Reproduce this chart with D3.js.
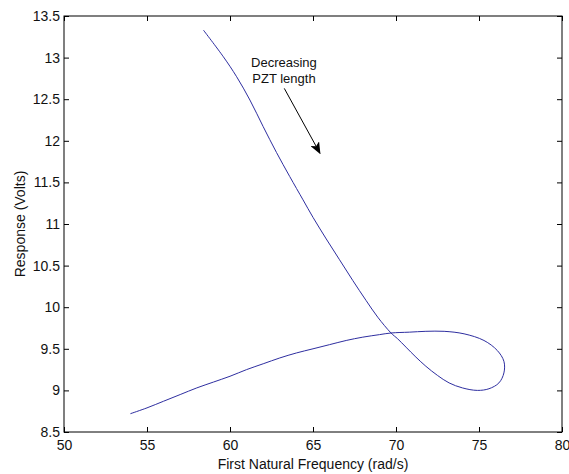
<!DOCTYPE html>
<html>
<head>
<meta charset="utf-8">
<script src="https://cdn.jsdelivr.net/npm/d3@7"></script>
<style>
  body { margin: 0; background: #fff; }
  svg text { font-family: "Liberation Sans", Arial, sans-serif; fill: #111; }
</style>
</head>
<body>
<script>
var width = 569,
    height = 474,
    margin = {top: 16, right: 7, bottom: 42, left: 64};

// tick values of the axes
var xTicks = [50, 55, 60, 65, 70, 75, 80],
    yTicks = [8.5, 9, 9.5, 10, 10.5, 11, 11.5, 12, 12.5, 13, 13.5];

// the curve, from the upper end to the lower one
var freq = [58.4, 59.6, 60.4, 61.2, 62.0, 62.8, 63.6, 64.4, 65.0, 65.8, 66.6, 67.4,
            68.2, 68.9, 69.7, 70.1, 70.6, 71.2, 71.8, 72.5, 73.2, 74.0, 74.9, 75.6,
            76.2, 76.5, 76.5, 76.1, 75.3, 74.1, 72.9, 71.8, 70.8, 69.7, 69.0, 68.0,
            67.0, 66.0, 65.0, 64.0, 63.0, 62.0, 61.0, 60.0, 59.0, 58.0, 57.0, 56.0,
            55.0, 54.0];
var resp = [13.33, 13.01, 12.77, 12.49, 12.17, 11.86, 11.57, 11.29, 11.08, 10.82, 10.57, 10.32,
            10.08, 9.88, 9.69, 9.62, 9.52, 9.40, 9.29, 9.18, 9.09, 9.03, 9.00, 9.02,
            9.09, 9.21, 9.35, 9.48, 9.60, 9.68, 9.71, 9.71, 9.70, 9.69, 9.67, 9.64,
            9.60, 9.55, 9.50, 9.45, 9.39, 9.32, 9.25, 9.17, 9.10, 9.03, 8.95, 8.87,
            8.79, 8.72];

// annotation text and arrow (in data units)
var noteLines = ["Decreasing", "PZT length"],
    noteX = 63.25,
    noteY = [12.89, 12.70],
    arrowFrom = [63.27, 12.63],
    arrowTo = [65.42, 11.85];

var svg = d3.select("body").append("svg")
    .attr("width", width)
    .attr("height", height);

var w = width - margin.left - margin.right,
    h = height - margin.top - margin.bottom;

var g = svg.append("g")
    .attr("transform", "translate(" + margin.left + "," + margin.top + ")");

var x = d3.scaleLinear().domain([50, 80]).range([0, w]);
var y = d3.scaleLinear().domain([8.5, 13.5]).range([h, 0]);

var fmt = function(d) { return String(d); };

// axes with inward ticks on all four sides
g.append("g")
    .attr("class", "x-axis")
    .attr("transform", "translate(0," + h + ")")
    .call(d3.axisBottom(x).tickValues(xTicks).tickFormat(fmt)
        .tickSizeInner(-5).tickSizeOuter(0).tickPadding(8));
g.append("g")
    .call(d3.axisTop(x).tickValues(xTicks).tickFormat("")
        .tickSizeInner(-5).tickSizeOuter(0));
g.append("g")
    .attr("class", "y-axis")
    .call(d3.axisLeft(y).tickValues(yTicks).tickFormat(fmt)
        .tickSizeInner(-5).tickSizeOuter(0).tickPadding(4));
g.append("g")
    .attr("transform", "translate(" + w + ",0)")
    .call(d3.axisRight(y).tickValues(yTicks).tickFormat("")
        .tickSizeInner(-5).tickSizeOuter(0));

g.selectAll(".domain").remove();
g.selectAll(".tick line").attr("stroke", "#000");
g.selectAll(".tick text").style("font-size", "14px").attr("fill", "#111");

// box
g.append("rect")
    .attr("x", 0).attr("y", 0)
    .attr("width", w).attr("height", h)
    .attr("fill", "none")
    .attr("stroke", "#000")
    .attr("stroke-width", 1);

// the curve
var pts = freq.map(function(f, i) { return [f, resp[i]]; });
var line = d3.line()
    .x(function(d) { return x(d[0]); })
    .y(function(d) { return y(d[1]); })
    .curve(d3.curveCatmullRom.alpha(0.5));

g.append("path")
    .attr("d", line(pts))
    .attr("fill", "none")
    .attr("stroke", "#2e2ea0")
    .attr("stroke-width", 1);

// annotation
g.selectAll("text.note")
    .data(noteLines)
    .enter().append("text")
    .attr("class", "note")
    .attr("x", x(noteX))
    .attr("y", function(d, i) { return y(noteY[i]); })
    .attr("text-anchor", "middle")
    .style("font-size", "13px")
    .text(function(d) { return d; });

svg.append("defs").append("marker")
    .attr("id", "head")
    .attr("viewBox", "0 0 12 10")
    .attr("refX", 11).attr("refY", 5)
    .attr("markerWidth", 12).attr("markerHeight", 10)
    .attr("markerUnits", "userSpaceOnUse")
    .attr("orient", "auto")
    .append("path")
    .attr("d", "M0,0 L12,5 L0,10 L3,5 Z")
    .attr("fill", "#000");

g.append("line")
    .attr("x1", x(arrowFrom[0])).attr("y1", y(arrowFrom[1]))
    .attr("x2", x(arrowTo[0])).attr("y2", y(arrowTo[1]))
    .attr("stroke", "#000")
    .attr("stroke-width", 1)
    .attr("marker-end", "url(#head)");

// axis titles
svg.append("text")
    .attr("x", margin.left + w / 2)
    .attr("y", 469)
    .attr("text-anchor", "middle")
    .style("font-size", "14px")
    .text("First Natural Frequency (rad/s)");

svg.append("text")
    .attr("transform", "translate(25," + (margin.top + h / 2) + ") rotate(-90)")
    .attr("text-anchor", "middle")
    .style("font-size", "14px")
    .text("Response (Volts)");
</script>
</body>
</html>
